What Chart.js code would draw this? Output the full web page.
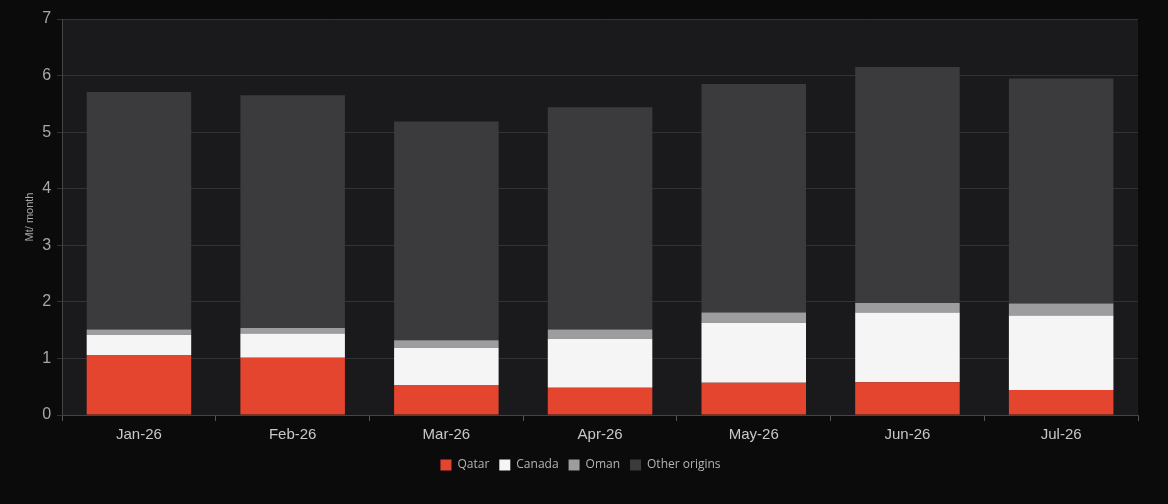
<!DOCTYPE html>
<html>
<head>
<meta charset="utf-8">
<script src="https://cdn.jsdelivr.net/npm/chart.js@4"></script>
<style>
  html, body { margin: 0; padding: 0; background: #0b0b0b; }
  #wrap { width: 1168px; height: 504px; }
</style>
</head>
<body>
<div id="wrap"><canvas id="lngChart"></canvas></div>
<script>
const months = ['Jan-26', 'Feb-26', 'Mar-26', 'Apr-26', 'May-26', 'Jun-26', 'Jul-26'];
const qatar = [1.06, 1.01, 0.53, 0.48, 0.57, 0.58, 0.44];
const canada = [0.36, 0.43, 0.66, 0.87, 1.06, 1.23, 1.32];
const oman = [0.09, 0.10, 0.13, 0.16, 0.18, 0.17, 0.21];
const otherOrigins = [4.20, 4.11, 3.87, 3.93, 4.04, 4.17, 3.98];

// fill the plot area a bit lighter than the page
const plotBg = {
    id: 'plotBg',
    beforeDraw(chart) {
        const a = chart.chartArea;
        const c = chart.ctx;
        c.save();
        c.fillStyle = '#1a1a1c';
        c.fillRect(a.left, a.top, a.right - a.left, a.bottom - a.top);
        c.restore();
    }
};

function series(label, data, color) {
    return {
        label: label,
        data: data,
        backgroundColor: color,
        borderWidth: 0,
        barPercentage: 0.68,
        categoryPercentage: 1.0
    };
}

const ctx = document.getElementById('lngChart').getContext('2d');

new Chart(ctx, {
    type: 'bar',
    data: {
        labels: months,
        datasets: [
            series('Qatar', qatar, '#e4452f'),
            series('Canada', canada, '#f5f5f5'),
            series('Oman', oman, '#9d9d9f'),
            series('Other origins', otherOrigins, '#3b3b3d')
        ]
    },
    options: {
        responsive: true,
        maintainAspectRatio: false,
        animation: false,
        layout: {
            padding: { top: 19, right: 30, left: 23, bottom: 23 }
        },
        plugins: {
            legend: {
                position: 'bottom',
                labels: {
                    color: '#b4b4b4',
                    font: { family: 'Open Sans', size: 12 },
                    boxWidth: 11,
                    boxHeight: 11,
                    padding: 10
                }
            },
            tooltip: { enabled: false }
        },
        scales: {
            x: {
                stacked: true,
                grid: {
                    drawOnChartArea: false,
                    drawTicks: true,
                    tickLength: 6,
                    color: '#555'
                },
                border: { color: '#444' },
                ticks: {
                    color: '#c8c8c8',
                    font: { family: 'Liberation Sans', size: 15 },
                    padding: 5
                }
            },
            y: {
                stacked: true,
                min: 0,
                max: 7,
                ticks: {
                    stepSize: 1,
                    color: '#a8a8a8',
                    font: { family: 'Liberation Sans', size: 16 },
                    padding: 6
                },
                grid: {
                    color: '#333336',
                    tickLength: 5
                },
                border: { color: '#444' },
                title: {
                    display: true,
                    text: 'Mt/ month',
                    color: '#a8a8a8',
                    font: { family: 'Liberation Sans', size: 11 },
                    padding: 0
                }
            }
        }
    },
    plugins: [plotBg]
});
</script>
</body>
</html>
